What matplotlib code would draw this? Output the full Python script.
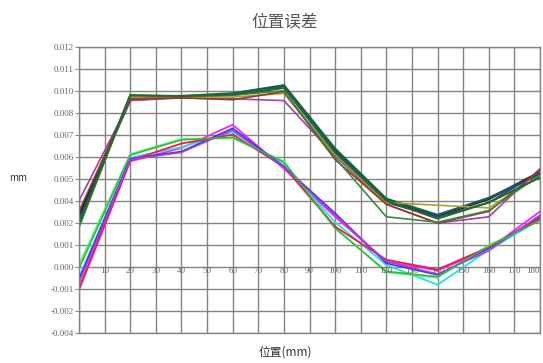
import matplotlib
matplotlib.use('Agg')
import matplotlib.pyplot as plt
import numpy as np

plt.rcParams['font.family'] = ['Noto Sans CJK SC', 'DejaVu Sans']

# posicoes medidas (mm)
posicoes = [0, 20, 40, 60, 80, 100, 120, 140, 160, 180]

# grupo superior (valores em 1e-3 mm)
sup_1 = [2.6, 9.05, 9.2, 9.35, 9.8, 6.2, 3.4, 2.55, 3.5, 5.0]
sup_2 = [2.2, 9.25, 9.25, 9.4, 9.85, 6.3, 3.5, 2.6, 3.55, 4.9]
sup_3 = [2.4, 9.05, 9.2, 9.3, 9.7, 6.1, 3.3, 2.5, 3.3, 5.0]
sup_4 = [3.4, 9.0, 9.15, 9.1, 9.0, 5.9, 3.2, 2.15, 2.5, 5.2]
sup_5 = [2.0, 9.2, 9.2, 9.2, 9.4, 6.0, 3.3, 3.15, 3.0, 4.8]
sup_6 = [2.8, 9.1, 9.15, 9.05, 9.5, 5.7, 3.2, 2.15, 2.8, 5.1]
sup_7 = [1.9, 9.3, 9.25, 9.3, 9.55, 5.8, 2.5, 2.2, 2.85, 4.85]
sup_8 = [2.1, 9.3, 9.25, 9.35, 9.75, 6.1, 3.4, 2.4, 3.3, 4.7]

# grupo inferior
inf_1 = [-1.6, 5.6, 6.35, 7.65, 5.2, 2.5, 0.0, -0.5, 0.7, 2.8]
inf_2 = [-0.9, 5.8, 6.4, 7.25, 5.4, 2.2, -0.2, -1.3, 0.65, 2.35]
inf_3 = [-0.2, 6.0, 6.85, 6.9, 5.6, 1.9, -0.6, -0.9, 0.9, 2.3]
inf_4 = [-1.0, 5.75, 6.15, 7.45, 5.3, 2.7, -0.1, -0.75, 0.75, 2.5]
inf_5 = [-1.5, 5.65, 6.6, 7.1, 5.3, 1.95, 0.1, -0.45, 0.8, 2.4]
inf_6 = [-1.2, 5.7, 6.1, 7.35, 5.25, 2.6, 0.0, -0.7, 0.6, 2.6]
inf_7 = [-0.4, 5.95, 6.8, 6.95, 5.55, 1.85, -0.55, -0.85, 0.85, 2.3]

y_rotulos = ['-0.004', '-0.002', '-0.001', '0.000', '0.001', '0.002', '0.004',
             '0.005', '0.006', '0.007', '0.008', '0.010', '0.011', '0.012']
x_rotulos = [10, 20, 30, 40, 50, 60, 70, 80, 90, 100, 110, 120, 130, 140, 150, 160, 170, 180]

superiores = [(sup_1, '#1a1a1a', 1.8), (sup_2, '#1d5a55', 1.8), (sup_3, '#2a3a90', 1.2),
              (sup_4, '#a040b0', 1.2), (sup_5, '#b0a030', 1.2), (sup_6, '#9a3a20', 1.2),
              (sup_7, '#3a8a3a', 1.2), (sup_8, '#1f6a30', 1.5)]
inferiores = [(inf_1, '#ff20ff', 1.3), (inf_2, '#20e0e8', 1.3), (inf_3, '#30ff60', 1.3),
              (inf_4, '#4030f0', 1.2), (inf_5, '#e82040', 1.3), (inf_6, '#a040e0', 1.1),
              (inf_7, '#40b040', 1.1)]

fig = plt.figure(figsize=(5.43, 3.63), dpi=100)
ax = fig.add_axes([0.1455, 0.0826, 0.849, 0.788])

for serie, cor, lw in superiores + inferiores:
    ax.plot(posicoes, np.array(serie) * 1e-3, color=cor, lw=lw, solid_joinstyle='miter')

ymin, ymax = -0.004, 0.012
yt = np.linspace(ymin, ymax, len(y_rotulos))
ax.set_ylim(ymin, ymax)
ax.set_xlim(0, 180)
ax.set_yticks(yt)
ax.set_yticklabels(y_rotulos, family='Liberation Serif', fontsize=6.5, color='#666666')
ax.set_xticks(np.arange(0, 181, 10))
ax.set_xticklabels([])
ax.tick_params(axis='x', length=0)
ax.tick_params(axis='y', length=3, color='#888888', pad=1)
ax.grid(True, color='#838383', lw=1.0)
for s in ax.spines.values():
    s.set_color('#838383')
    s.set_linewidth(1.0)

# rotulos do eixo x dentro do grafico, logo abaixo da linha 0.000
y_txt = yt[3] - 0.00023
for xv in x_rotulos:
    alinh = 'right' if xv == x_rotulos[-1] else 'center'
    ax.text(xv, y_txt, str(xv), ha=alinh, va='center', fontsize=6.5,
            family='Liberation Serif', color='#666666', clip_on=False)

fig.text(0.525, 0.94, '位置误差', ha='center', va='center', fontsize=12, color='#555555')
fig.text(0.525, 0.03, '位置(mm)', ha='center', va='center', fontsize=8.5, color='#333333')
fig.text(0.033, 0.51, 'mm', ha='center', va='center', fontsize=7, color='#333333')

fig.savefig('out.png', dpi=100)
